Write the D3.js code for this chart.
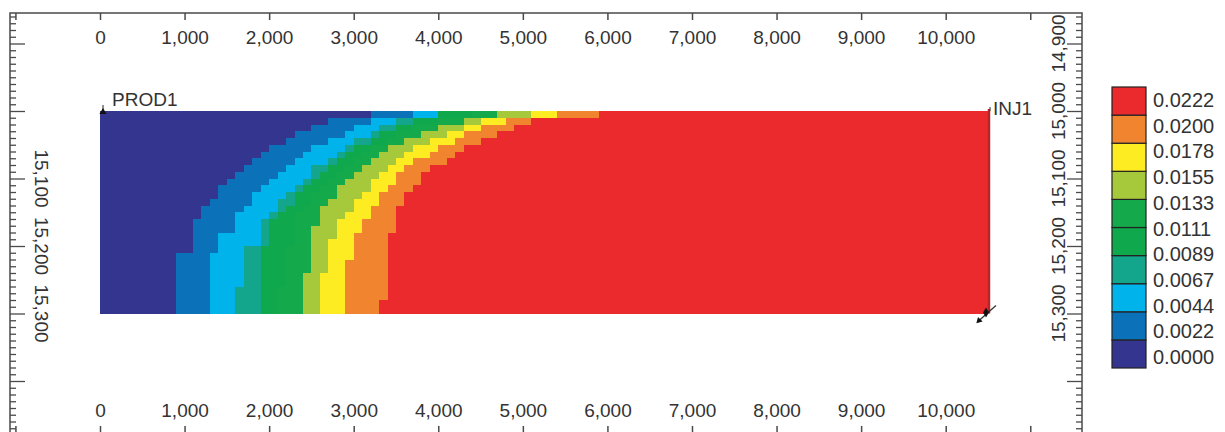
<!DOCTYPE html>
<html>
<head>
<meta charset="utf-8">
<script src="https://cdn.jsdelivr.net/npm/d3@7"></script>
<style>
  html, body { margin: 0; padding: 0; background: #fff; }
  svg { display: block; font-family: "Liberation Sans", Arial, Helvetica, sans-serif; }
</style>
</head>
<body>
<svg id="chart" width="1225" height="432"></svg>
<script>
// ---- Legend: concentration break values (top to bottom) and class colours (low to high)
const legendLabels = ["0.0222", "0.0200", "0.0178", "0.0155", "0.0133", "0.0111",
                      "0.0089", "0.0067", "0.0044", "0.0022", "0.0000"];
const classColors = ["#33358f", "#0b72b9", "#00b3ea", "#13a68c", "#0fa84c",
                     "#14a94a", "#a6c93b", "#fcec21", "#f1842f", "#ea2a2c"];

// ---- Axis ticks
const xTickValues = [-1000, 0, 1000, 2000, 3000, 4000, 5000, 6000, 7000, 8000, 9000, 10000, 11000];
const xLabelValues = [0, 1000, 2000, 3000, 4000, 5000, 6000, 7000, 8000, 9000, 10000];
const depthMajorTicks = [14900, 15000, 15100, 15200, 15300, 15400];
const depthLeftLabels = [15100, 15200, 15300];
const depthRightLabels = [14900, 15000, 15100, 15200, 15300];

// ---- Cross-section grid (ft)
const gridLength = 10500;
const cellDx = 100;
const topDepth = 15000;
const layerDz = 10;
const nLayers = 30;

// ---- Front positions (ft from producer) per layer, top layer first:
// the distance beyond which concentration exceeds each class threshold
const front0022 = [3160, 2660, 2480, 2310, 2160, 2010, 1890, 1770, 1690, 1610, 1510, 1440, 1360, 1280, 1180,
                   1160, 1110, 1060, 1060, 1060, 1060, 910, 910, 910, 910, 910, 910, 910, 910, 910];
const front0044 = [3670, 3250, 3040, 2860, 2700, 2540, 2390, 2270, 2160, 2070, 1990, 1920, 1840, 1770, 1690,
                   1570, 1570, 1570, 1450, 1450, 1450, 1310, 1310, 1310, 1310, 1310, 1310, 1310, 1310, 1310];
const front0067 = [3960, 3550, 3330, 3170, 3030, 2900, 2770, 2660, 2550, 2460, 2370, 2290, 2210, 2130, 2060,
                   1990, 1920, 1860, 1860, 1860, 1740, 1740, 1740, 1740, 1740, 1740, 1570, 1570, 1570, 1570];
const front0089 = [3960, 3690, 3460, 3310, 3170, 3040, 2910, 2800, 2700, 2600, 2510, 2420, 2340, 2270, 2190,
                   2100, 2030, 2010, 2010, 2010, 1950, 1950, 1950, 1950, 1950, 1950, 1860, 1860, 1860, 1860];
const front0111 = [4380, 4000, 3750, 3550, 3380, 3240, 3100, 2980, 2890, 2790, 2700, 2630, 2550, 2480, 2420,
                   2350, 2310, 2270, 2260, 2260, 2220, 2220, 2210, 2210, 2190, 2190, 2130, 2130, 2130, 2130];
const front0133 = [4730, 4280, 4020, 3780, 3580, 3430, 3290, 3170, 3070, 2980, 2900, 2830, 2760, 2700, 2650,
                   2600, 2580, 2540, 2520, 2510, 2480, 2480, 2460, 2460, 2420, 2420, 2390, 2390, 2390, 2390];
const front0155 = [5120, 4530, 4290, 4100, 3900, 3750, 3610, 3500, 3410, 3310, 3230, 3160, 3070, 3020, 2960,
                   2900, 2840, 2800, 2770, 2730, 2710, 2680, 2660, 2660, 2640, 2640, 2600, 2600, 2600, 2600];
const front0178 = [5400, 4770, 4520, 4340, 4160, 4000, 3870, 3750, 3640, 3550, 3460, 3390, 3330, 3280, 3220,
                   3160, 3110, 3070, 3040, 3020, 2990, 2960, 2930, 2920, 2900, 2870, 2870, 2870, 2870, 2870];
const front0200 = [5940, 5120, 4880, 4670, 4490, 4330, 4170, 4060, 3940, 3840, 3760, 3690, 3630, 3580, 3550,
                   3520, 3500, 3480, 3450, 3430, 3430, 3410, 3410, 3390, 3390, 3390, 3390, 3390, 3290, 3290];

const fronts = [front0022, front0044, front0067, front0089, front0111,
                front0133, front0155, front0178, front0200];

// ---- Scales
const svg = d3.select("#chart");
const x = d3.scaleLinear().domain([0, 10000]).range([100, 945.7]);
const y = d3.scaleLinear().domain([15000, 15300]).range([111, 313.5]);
const frame = { left: 10, right: 1082, top: 13, bottom: 433 };
const axisColor = "#4a4a4a";
const textColor = "#333";
const fontSize = 19;

// ---- Concentration field: colour each cell by class, merging runs in a layer
const nCols = Math.round(gridLength / cellDx);
const field = svg.append("g").attr("shape-rendering", "crispEdges");
for (let r = 0; r < nLayers; r++) {
  const cls = d3.range(nCols).map(c => {
    const xc = (c + 0.5) * cellDx;
    return fronts.reduce((k, f) => k + (xc >= f[r] ? 1 : 0), 0);
  });
  let start = 0;
  for (let c = 1; c <= nCols; c++) {
    if (c === nCols || cls[c] !== cls[start]) {
      field.append("rect")
        .attr("x", x(start * cellDx))
        .attr("width", x(c * cellDx) - x(start * cellDx))
        .attr("y", y(topDepth + r * layerDz))
        .attr("height", y(topDepth + (r + 1) * layerDz) - y(topDepth + r * layerDz))
        .attr("fill", classColors[cls[start]]);
      start = c;
    }
  }
}

// ---- Frame
svg.append("rect")
  .attr("x", frame.left).attr("y", frame.top)
  .attr("width", frame.right - frame.left).attr("height", frame.bottom - frame.top)
  .attr("fill", "none").attr("stroke", axisColor).attr("stroke-width", 1.5);

const fmt = d3.format(",");
const xLab = d => xLabelValues.includes(d) ? fmt(d) : "";

// Top axis: ticks pointing down into the frame
const topAxis = svg.append("g").attr("transform", `translate(0,${frame.top})`)
  .call(d3.axisBottom(x).tickValues(xTickValues).tickSize(7).tickPadding(11).tickFormat(xLab));
// Bottom axis: ticks pointing up into the frame
const bottomAxis = svg.append("g").attr("transform", `translate(0,${frame.bottom})`)
  .call(d3.axisTop(x).tickValues(xTickValues).tickSize(7).tickPadding(9).tickFormat(xLab));

[topAxis, bottomAxis].forEach(g => {
  g.select(".domain").remove();
  g.selectAll(".tick line").attr("stroke", axisColor).attr("stroke-width", 1.5);
  g.selectAll(".tick text").attr("fill", textColor).attr("font-size", fontSize)
    .attr("font-family", "'Liberation Sans', Arial, sans-serif");
});

// Depth axes: minor ticks every 10 ft, major every 100 ft
const depthDomain = [y.invert(frame.top), y.invert(frame.bottom)];
const minorTicks = d3.range(Math.ceil(depthDomain[0] / 10) * 10, depthDomain[1], 10)
  .filter(d => !depthMajorTicks.includes(d));

function depthAxis(axisFn, xPos) {
  const g = svg.append("g").attr("transform", `translate(${xPos},0)`);
  g.append("g").call(axisFn(y).tickValues(minorTicks).tickSize(6).tickFormat(""));
  g.append("g").call(axisFn(y).tickValues(depthMajorTicks).tickSize(15).tickFormat(""));
  g.selectAll(".domain").remove();
  g.selectAll(".tick line").attr("stroke", axisColor).attr("stroke-width", 1.3);
  return g;
}
depthAxis(d3.axisRight, frame.left);
depthAxis(d3.axisLeft, frame.right);

// Rotated depth labels
svg.append("g").selectAll("text").data(depthLeftLabels).join("text")
  .attr("transform", d => `translate(41,${y(d)}) rotate(90)`)
  .attr("text-anchor", "middle").attr("dominant-baseline", "central")
  .attr("font-size", fontSize).attr("fill", textColor)
  .text(d => fmt(d));
svg.append("g").selectAll("text").data(depthRightLabels).join("text")
  .attr("transform", d => `translate(1058,${y(d)}) rotate(-90)`)
  .attr("text-anchor", "middle").attr("dominant-baseline", "central")
  .attr("font-size", fontSize).attr("fill", textColor)
  .text(d => fmt(d));

// ---- Wells
const xProd = x(0), xInj = x(gridLength);
const yTop = y(topDepth), yBot = y(topDepth + nLayers * layerDz);

// Producer at the left edge
svg.append("line").attr("x1", xProd + 3).attr("x2", xProd + 3)
  .attr("y1", yTop - 6).attr("y2", yTop).attr("stroke", "#222").attr("stroke-width", 1);
svg.append("path")
  .attr("d", d3.symbol(d3.symbolTriangle, 22)())
  .attr("transform", `translate(${xProd + 3},${yTop + 1})`)
  .attr("fill", "#111");
svg.append("text").attr("x", xProd + 12).attr("y", yTop - 5)
  .attr("font-size", fontSize).attr("fill", textColor).text("PROD1");

// Injector along the right edge
svg.append("line").attr("x1", xInj + 1).attr("x2", xInj + 1)
  .attr("y1", yTop - 2).attr("y2", yBot)
  .attr("stroke", "#b5262b").attr("stroke-width", 2.5);
svg.append("line").attr("x1", xInj + 2).attr("x2", xInj + 2)
  .attr("y1", yTop - 4).attr("y2", yTop).attr("stroke", "#333").attr("stroke-width", 1);
svg.append("line").attr("x1", xInj - 10).attr("y1", yBot + 8)
  .attr("x2", xInj + 8).attr("y2", yBot - 8)
  .attr("stroke", "#333").attr("stroke-width", 1.2);
svg.append("path")
  .attr("d", d3.symbol(d3.symbolDiamond, 30)())
  .attr("transform", `translate(${xInj - 2},${yBot - 1})`)
  .attr("fill", "#111");
svg.append("path")
  .attr("d", d3.symbol(d3.symbolTriangle, 18)())
  .attr("transform", `translate(${xInj - 9},${yBot + 7}) rotate(-135)`)
  .attr("fill", "#111");
svg.append("text").attr("x", xInj + 5).attr("y", yTop + 4)
  .attr("font-size", fontSize).attr("fill", textColor).text("INJ1");

// ---- Colour legend
const legend = svg.append("g");
const swatchScale = d3.scaleBand()
  .domain(d3.range(classColors.length).reverse())
  .range([87, 368]).paddingInner(0);
legend.selectAll("rect").data(d3.range(classColors.length)).join("rect")
  .attr("x", 1112).attr("width", 34)
  .attr("y", d => swatchScale(d)).attr("height", swatchScale.bandwidth())
  .attr("fill", d => classColors[d])
  .attr("stroke", "#222").attr("stroke-width", 1.2);
const labelScale = d3.scalePoint().domain(legendLabels).range([100, 357]);
legend.selectAll("text").data(legendLabels).join("text")
  .attr("x", 1153).attr("y", d => labelScale(d))
  .attr("dominant-baseline", "central")
  .attr("font-size", 20).attr("fill", textColor)
  .text(d => d);
</script>
</body>
</html>
